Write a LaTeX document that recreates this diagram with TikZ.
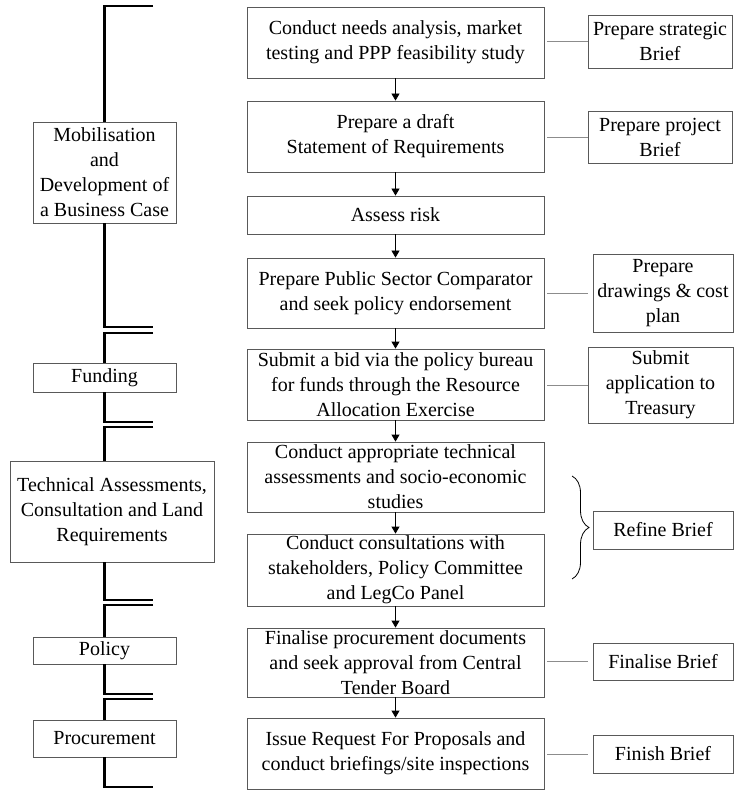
\documentclass[tikz,border=0pt]{standalone}
\usepackage{fontspec}
\setmainfont{Liberation Serif}
\usetikzlibrary{arrows.meta,decorations.pathreplacing}
\begin{document}
\begin{tikzpicture}[x=1pt,y=-1pt,
  box/.style={draw=black!65, line width=0.8pt, inner sep=0pt, align=center,
    font=\fontsize{20}{25}\selectfont},
  mainbox/.style={box, minimum width=297pt},
  arr/.style={line width=0.8pt, -{Triangle[length=7pt,width=8pt]}},
  conn/.style={draw=black!45, line width=0.9pt},
  bar/.style={line width=2.6pt, line cap=butt, line join=miter}]
\useasboundingbox (0,0) rectangle (734,791);

% main column
\node[mainbox, minimum height=71pt] (m1) at (395.5,42.5) {Conduct needs analysis, market\\testing and PPP feasibility study};
\node[mainbox, minimum height=71pt] (m2) at (395.5,136.5) {Prepare a draft\\Statement of Requirements};
\node[mainbox, minimum height=38pt] (m3) at (395.5,215) {Assess risk};
\node[mainbox, minimum height=70pt] (m4) at (395.5,293) {Prepare Public Sector Comparator\\and seek policy endorsement};
\node[mainbox, minimum height=71pt] (m5) at (395.5,384.5) {Submit a bid via the policy bureau\\for funds through the Resource\\Allocation Exercise};
\node[mainbox, minimum height=70pt] (m6) at (395.5,477) {Conduct appropriate technical\\assessments and socio-economic\\studies};
\node[mainbox, minimum height=72pt] (m7) at (395.5,570) {Conduct consultations with\\stakeholders, Policy Committee\\and LegCo Panel};
\node[mainbox, minimum height=69pt] (m8) at (395.5,662.5) {Finalise procurement documents\\and seek approval from Central\\Tender Board};
\node[mainbox, minimum height=71pt] (m9) at (395.5,753.5) {Issue Request For Proposals and\\conduct briefings/site inspections};

\foreach \a/\b in {m1/m2,m2/m3,m3/m4,m4/m5,m5/m6,m6/m7,m7/m8,m8/m9}
  \draw[arr] (\a) -- (\b);

% right column
\node[box, minimum width=144pt, minimum height=53pt] (r1) at (660,41.5) {Prepare strategic\\Brief};
\node[box, minimum width=144pt, minimum height=52pt] (r2) at (660,137) {Prepare project\\Brief};
\node[box, minimum width=140pt, minimum height=78pt] (r3) at (663,293) {Prepare\\drawings \& cost\\plan};
\node[box, minimum width=145pt, minimum height=76pt] (r4) at (660.5,385) {Submit\\application to\\Treasury};
\node[box, minimum width=140pt, minimum height=38pt] (r5) at (663,530) {Refine Brief};
\node[box, minimum width=140pt, minimum height=37pt] (r6) at (663,661.5) {Finalise Brief};
\node[box, minimum width=140pt, minimum height=38pt] (r7) at (663,754) {Finish Brief};

\draw[conn] ([xshift=3pt]m1.east |- r1.west) -- (r1.west);
\draw[conn] ([xshift=3pt]m2.east |- r2.west) -- (r2.west);
\draw[conn] ([xshift=3pt]m4.east |- r3.west) -- ([xshift=-5pt]r3.west);
\draw[conn] ([xshift=3pt]m5.east |- r4.west) -- (r4.west);
\draw[conn] ([xshift=3pt]m8.east |- r6.west) -- ([xshift=-5pt]r6.west);
\draw[conn] ([xshift=3pt]m9.east |- r7.west) -- ([xshift=-5pt]r7.west);

% brace
\coordinate (bt) at (572,476);
\coordinate (bb) at (572,579);
\draw[line width=0.8pt, decorate, decoration={brace, amplitude=17pt}] (bt) -- (bb);

% left column
\node[box, minimum width=143pt, minimum height=101pt] (mob) at (104.5,172.5) {Mobilisation\\and\\Development of\\a Business Case};
\node[box, minimum width=143pt, minimum height=29pt] (fund) at (104.5,377.5) {Funding};
\node[box, minimum width=204pt, minimum height=101pt] (tech) at (112,511.5) {Technical Assessments,\\Consultation and Land\\Requirements};
\node[box, minimum width=143pt, minimum height=27pt] (pol) at (104.5,650.5) {Policy};
\node[box, minimum width=143pt, minimum height=37pt] (proc) at (104.5,738.5) {Procurement};

\coordinate (c0) at (153,6);
\coordinate (c1) at (153,327);
\coordinate (c2) at (153,333);
\coordinate (c3) at (153,422);
\coordinate (c4) at (153,427);
\coordinate (c5) at (153,600);
\coordinate (c6) at (153,605);
\coordinate (c7) at (153,694);
\coordinate (c8) at (153,699);
\coordinate (c9) at (153,787);

\draw[bar] (c0) -| (mob.north);
\draw[bar] (mob.south) |- (c1);
\draw[bar] (c2) -| (fund.north);
\draw[bar] (fund.south) |- (c3);
\draw[bar] (c4) -| (fund.south |- tech.north);
\draw[bar] (fund.south |- tech.south) |- (c5);
\draw[bar] (c6) -| (pol.north);
\draw[bar] (pol.south) |- (c7);
\draw[bar] (c8) -| (proc.north);
\draw[bar] (proc.south) |- (c9);
\end{tikzpicture}
\end{document}
